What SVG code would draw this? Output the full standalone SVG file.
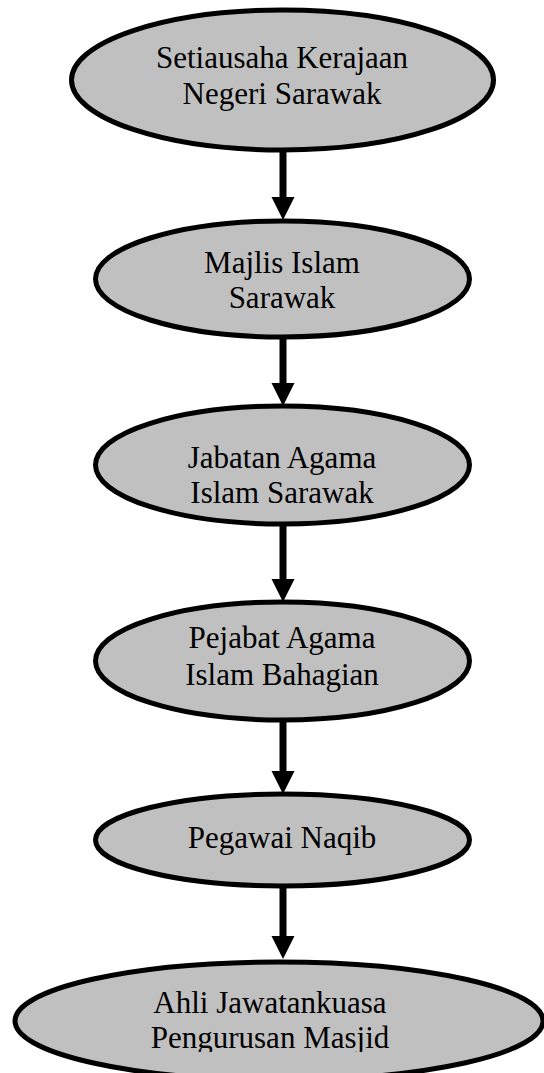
<svg xmlns="http://www.w3.org/2000/svg" width="544" height="1073" viewBox="0 0 544 1073">
<style>
.node ellipse{fill:#c0c0c0;stroke:#000;stroke-width:5}
.node text{font-family:"Liberation Serif","Times New Roman",serif;font-size:31px;fill:#000;text-anchor:middle}
.conn line{stroke:#000;stroke-width:7}
</style>
<defs>
<marker id="ah" markerUnits="userSpaceOnUse" markerWidth="24" markerHeight="24" refX="8" refY="11.5" orient="auto">
<path d="M0,0 L23,11.5 L0,23 z" fill="#000"/>
</marker>
<clipPath id="clipb"><rect x="0" y="0" width="544" height="1052"/></clipPath>
</defs>
<rect width="544" height="1073" fill="#fff"/>
<g id="connectors" class="conn">
<line x1="283" y1="150" x2="283" y2="205" marker-end="url(#ah)"/>
<line x1="283" y1="336" x2="283" y2="391" marker-end="url(#ah)"/>
<line x1="283" y1="522" x2="283" y2="587" marker-end="url(#ah)"/>
<line x1="283" y1="718" x2="283" y2="779" marker-end="url(#ah)"/>
<line x1="283" y1="884" x2="283" y2="944" marker-end="url(#ah)"/>
</g>
<g id="n1" class="node">
<ellipse cx="282.5" cy="80" rx="211" ry="70"/>
<text x="282" y="68">Setiausaha Kerajaan</text>
<text x="282" y="104">Negeri Sarawak</text>
</g>
<g id="n2" class="node">
<ellipse cx="282.5" cy="279" rx="187" ry="58"/>
<text x="282" y="273">Majlis Islam</text>
<text x="282" y="308">Sarawak</text>
</g>
<g id="n3" class="node">
<ellipse cx="282.5" cy="465" rx="187" ry="59"/>
<text x="282" y="468">Jabatan Agama</text>
<text x="282" y="503">Islam Sarawak</text>
</g>
<g id="n4" class="node">
<ellipse cx="282.5" cy="661" rx="187" ry="59"/>
<text x="282" y="648">Pejabat Agama</text>
<text x="282" y="685">Islam Bahagian</text>
</g>
<g id="n5" class="node">
<ellipse cx="282.5" cy="840" rx="187" ry="46"/>
<text x="282" y="848">Pegawai Naqib</text>
</g>
<g id="n6" class="node">
<ellipse cx="279" cy="1021" rx="264" ry="59"/>
<g clip-path="url(#clipb)">
<text x="270" y="1013">Ahli Jawatankuasa</text>
<text x="270" y="1048">Pengurusan Masjid</text>
</g>
</g>
</svg>
